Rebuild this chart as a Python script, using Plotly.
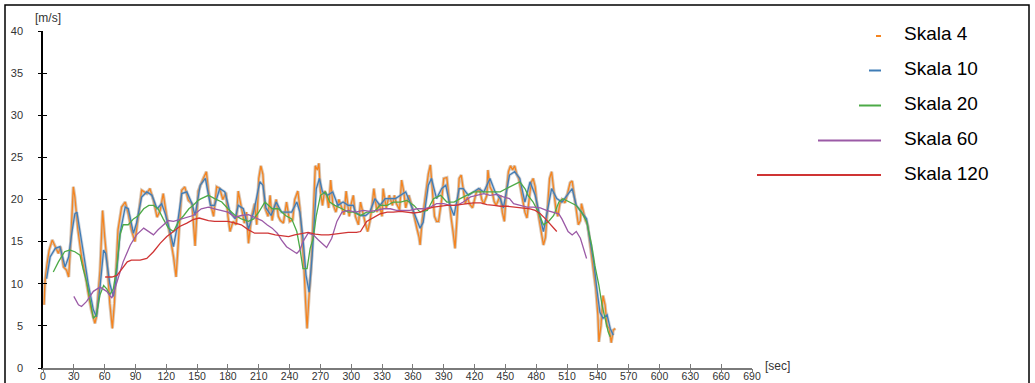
import plotly.graph_objects as go

# ---- wind speed time series [m/s] over time [sec], one per averaging scale ----
t4 = [1, 2, 4, 6, 9, 12, 15, 17, 20, 23,
      25, 27, 29.5, 31, 34, 37.5, 41, 44, 47, 50.5,
      52, 55.5, 58, 60, 62.5, 65, 67.5, 69.5, 71, 73,
      76.5, 80, 83, 86, 89.5, 93, 96, 101, 104, 107.5,
      111, 114, 117, 120, 124, 127, 129.5, 132, 135, 138,
      141.5, 145, 148, 151, 153, 156, 159, 161, 164, 166,
      169, 172, 175, 178, 180, 182, 185, 188, 190, 193,
      196, 198, 200, 203, 206, 208, 210, 212, 214, 216,
      219, 221, 223, 225, 227, 229, 231, 234, 237, 240,
      243, 245, 248, 250, 252, 254, 255.5, 257, 259, 261,
      263, 265, 267, 268.5, 270, 272, 274, 276, 278, 280,
      282, 285, 288, 290, 293, 295, 298, 300, 302, 304,
      307, 309, 312, 314, 316, 318, 320, 322, 325, 327,
      330, 331, 334, 337, 340, 342, 344, 347, 349, 351,
      353, 356, 359, 361, 364, 366, 367, 369, 372, 375,
      377, 379, 381, 383, 385, 388, 390, 393, 395, 397,
      399, 401, 403, 405, 407, 409, 411, 413, 415, 418,
      420, 422, 425, 427, 429, 432, 433, 435, 437, 439,
      441, 443, 445, 447, 449, 451, 453, 455, 457, 459,
      461, 463, 465, 467, 469, 471, 473, 475, 477, 479,
      481, 483, 485, 487, 489, 491, 493, 495, 497, 499,
      501, 503, 505, 508, 510, 513, 515, 517, 519, 521,
      523, 524, 526, 528, 530, 532, 534, 536, 538, 540,
      541, 543, 545, 547, 549, 551, 552, 553, 555, 557]
v4 = [7.5, 10.4, 12.4, 14.0, 15.2, 14.4, 13.6, 14.4, 12.0, 11.6,
      10.8, 15.0, 21.5, 20.3, 16.4, 13.2, 11.2, 8.9, 6.9, 5.3,
      6.1, 11.6, 18.7, 15.6, 12.4, 7.7, 4.7, 7.7, 11.6, 16.4,
      19.1, 19.7, 18.3, 16.4, 15.0, 18.7, 21.1, 20.7, 21.3, 19.9,
      17.9, 18.7, 20.7, 18.3, 15.6, 13.2, 10.8, 15.6, 21.1, 21.5,
      19.9, 19.5, 14.5, 21.0, 21.7, 22.5, 23.3, 21.0, 19.0, 18.0,
      21.5, 21.3, 20.0, 20.8, 18.0, 16.2, 17.4, 17.0, 21.0, 19.0,
      17.2, 18.5, 14.8, 18.0, 19.5, 17.0, 22.5, 24.0, 23.0, 19.0,
      18.0, 20.5, 17.5, 19.0, 20.0, 18.0, 17.5, 17.2, 19.7, 17.4,
      17.6, 20.0, 21.0, 19.0, 16.0, 12.0, 8.0, 4.7, 8.7, 12.0,
      18.0, 24.0, 23.5, 24.3, 21.0, 19.3, 21.0, 20.5, 19.0, 22.3,
      19.5, 18.5, 20.0, 19.3, 18.2, 21.0, 18.0, 19.5, 20.5, 18.0,
      17.0, 19.7, 18.0, 17.0, 16.2, 17.3, 19.0, 21.3, 18.5, 19.5,
      18.0, 21.3, 19.0, 20.5, 19.3, 20.5, 19.5, 18.8, 22.3, 21.0,
      19.0, 20.5, 19.2, 18.0, 16.5, 15.5, 14.6, 17.5, 20.5, 23.0,
      24.1, 21.0, 18.0, 17.4, 17.4, 20.0, 22.5, 22.6, 20.0, 18.0,
      16.2, 14.2, 18.0, 22.5, 22.9, 21.0, 19.5, 20.3, 19.5, 19.0,
      20.0, 21.0, 21.2, 20.0, 19.5, 20.5, 23.5, 21.5, 21.0, 19.8,
      19.3, 20.0, 20.5, 18.5, 17.4, 21.0, 23.3, 24.0, 23.5, 24.0,
      23.0, 22.5, 21.0, 20.0, 18.5, 17.8, 20.0, 22.0, 22.5, 21.5,
      19.0, 17.5, 16.0, 14.6, 15.5, 19.0, 22.5, 23.3, 21.0, 19.0,
      18.0, 19.5, 20.0, 19.6, 20.5, 22.0, 22.2, 20.5, 19.0, 17.0,
      17.5, 19.5, 18.5, 17.5, 17.0, 15.0, 13.0, 11.4, 9.4, 6.3,
      3.1, 5.0, 8.6, 7.5, 5.0, 4.7, 4.0, 3.0, 4.5, 4.7]

t10 = [3.5, 7, 12, 16.5, 21.5, 25, 28, 31, 33, 36,
       41, 44, 49, 52, 55.5, 59, 61, 65, 68.5, 71,
       75, 80, 83, 88, 91, 96, 101, 106, 111, 115.5,
       119, 124, 127, 130, 135, 140, 145, 148, 153, 158,
       163, 167, 172, 177, 182, 187, 190, 195, 200, 205,
       211, 214, 217, 222, 227, 232, 237, 242, 247, 250,
       253, 256, 259, 262, 266, 269, 272, 277, 282, 287,
       292, 297, 302, 304, 309, 314, 318, 323, 328, 333,
       338, 343, 348, 353, 357, 362, 367, 370, 375, 378,
       383, 388, 392, 396, 400, 405, 409, 414, 419, 424,
       429, 435, 440, 445, 448, 454, 459, 464, 469, 474,
       479, 484, 487, 490, 495, 500, 505, 510, 515, 519,
       524, 529, 532, 536, 539, 542, 545, 549, 552, 555]
v10 = [10.6, 13.2, 14.2, 14.4, 12.0, 13.2, 16.0, 18.3, 18.5, 16.4,
       12.4, 10.0, 6.9, 6.1, 9.6, 14.0, 13.6, 10.0, 8.5, 10.4,
       16.0, 19.1, 18.9, 16.0, 17.2, 20.3, 20.9, 20.5, 18.9, 19.5,
       18.3, 16.0, 14.4, 16.4, 20.7, 20.9, 19.5, 18.1, 21.7, 22.5,
       19.3, 19.3, 21.3, 20.9, 18.5, 17.7, 19.3, 18.9, 16.5, 18.5,
       22.1, 21.7, 19.0, 18.1, 19.7, 18.5, 18.5, 18.5, 19.7, 18.5,
       15.4, 11.0, 9.0, 13.4, 21.3, 22.5, 20.9, 20.5, 20.9, 19.3,
       19.7, 19.3, 19.3, 18.5, 18.1, 18.1, 18.5, 20.1, 19.3, 20.1,
       20.1, 20.1, 20.5, 20.9, 19.7, 18.1, 16.6, 17.3, 21.7, 22.5,
       20.1, 21.3, 21.7, 19.3, 18.1, 21.3, 21.3, 20.5, 20.9, 21.3,
       20.9, 22.5, 20.9, 20.1, 19.0, 22.9, 23.3, 22.5, 19.7, 22.1,
       20.5, 17.7, 16.2, 18.1, 21.3, 20.1, 19.7, 20.5, 21.3, 19.3,
       18.5, 17.7, 15.4, 12.6, 9.4, 6.6, 5.9, 6.3, 4.7, 3.9]

t20 = [10, 15, 21, 26, 31, 36, 39, 42.5, 46, 49,
       52, 55.5, 59, 62, 65, 68.5, 72, 75, 78, 83,
       88, 93, 98, 103, 107.5, 112, 117, 122, 127, 132,
       137, 142, 146, 151, 154, 161, 167, 174, 180, 187,
       193, 200, 205, 210, 216, 223, 229, 236, 242, 247,
       250, 253, 257, 260, 263, 266, 270, 275, 279, 284,
       291, 297, 302, 309, 315, 322, 328, 335, 341, 348,
       354, 361, 367, 374, 380, 387, 393, 400, 406, 413,
       419, 426, 432, 439, 445, 451, 458, 464, 469, 472,
       477, 482, 487, 492, 497, 502, 506, 513, 519, 524,
       529, 534, 537, 541, 544, 547, 550, 552]
v20 = [11.4, 12.6, 13.8, 14.0, 13.8, 13.4, 11.8, 10.2, 7.9, 5.9,
       6.3, 8.7, 9.8, 9.4, 8.7, 9.4, 12.2, 15.8, 17.0, 17.0,
       17.7, 18.1, 18.9, 19.3, 19.3, 18.9, 17.7, 16.6, 16.2, 17.4,
       18.1, 18.9, 19.3, 19.9, 20.1, 20.5, 20.1, 19.7, 18.9, 18.1,
       17.7, 17.4, 17.7, 18.5, 19.7, 18.9, 18.9, 18.1, 17.7, 16.2,
       14.2, 11.8, 11.8, 14.2, 15.4, 18.1, 20.5, 20.9, 19.7, 19.3,
       18.9, 18.5, 18.5, 18.1, 18.5, 18.5, 19.3, 19.3, 19.7, 19.7,
       19.9, 19.3, 18.5, 18.7, 20.1, 20.5, 19.7, 19.7, 20.1, 20.5,
       20.9, 20.9, 20.9, 20.9, 20.9, 21.3, 21.7, 22.1, 21.3, 20.5,
       19.7, 18.5, 17.0, 17.4, 18.1, 19.7, 20.1, 19.7, 19.3, 18.5,
       17.4, 14.6, 12.2, 9.8, 7.5, 5.9, 4.3, 3.7]

t60 = [30, 34.5, 37.5, 42.5, 49, 55.5, 62, 67, 72, 78,
       85, 91, 98, 103, 107.5, 112, 117, 122, 127, 133,
       140, 146, 154, 161, 167, 174, 180, 187, 193, 200,
       206, 213, 218, 223, 228, 232, 237, 242, 247, 250,
       253, 258, 263, 268, 273, 276, 281, 286, 291, 297,
       304, 312, 318, 325, 331, 338, 344, 351, 357, 364,
       370, 377, 383, 390, 396, 403, 409, 416, 422, 429,
       435, 442, 448, 454, 458, 464, 471, 477, 484, 490,
       497, 502, 505, 508, 511, 515, 519, 523, 526, 529]
v60 = [8.5, 7.5, 7.3, 7.9, 9.1, 9.6, 9.1, 8.3, 10.2, 12.6,
       14.6, 15.8, 16.6, 16.2, 15.8, 16.4, 17.0, 17.5, 17.4, 17.6,
       17.9, 18.1, 18.9, 19.1, 18.9, 18.7, 18.5, 17.9, 18.1, 18.2,
       17.9, 17.5, 17.0, 16.6, 16.0, 15.2, 14.4, 14.0, 13.6, 14.0,
       15.0, 16.0, 15.8, 15.2, 14.6, 14.3, 15.4, 17.4, 18.5, 18.7,
       18.5, 18.7, 18.6, 18.7, 18.9, 18.9, 18.7, 18.7, 18.7, 18.9,
       18.9, 19.1, 19.5, 19.5, 19.3, 19.3, 19.7, 20.3, 20.5, 20.7,
       20.5, 20.6, 20.3, 20.1, 19.5, 19.3, 19.1, 19.1, 19.0, 18.7,
       18.5, 18.3, 17.7, 17.0, 16.2, 15.8, 16.2, 15.4, 14.2, 13.0]

t120 = [60.5, 67, 72, 77, 82, 86, 94.5, 101, 107.5, 114,
        120.5, 127, 133, 140, 146, 152, 161, 167, 174, 180,
        187, 193, 200, 206, 213, 219, 226, 232, 239, 245,
        252, 258, 265, 271, 278, 284, 291, 297, 305, 309,
        315, 322, 328, 335, 341, 348, 354, 361, 367, 374,
        380, 387, 393, 400, 406, 413, 419, 426, 432, 439,
        445, 452, 461, 467, 474, 479, 484, 489, 493, 497,
        500]
v120 = [10.8, 10.8, 11.0, 11.8, 12.6, 12.8, 12.8, 13.0, 13.8, 14.8,
        15.6, 16.2, 16.8, 17.2, 17.6, 17.8, 17.5, 17.4, 17.4, 17.4,
        17.2, 17.0, 16.4, 16.0, 16.0, 16.0, 15.8, 15.7, 15.6, 15.8,
        16.0, 16.1, 15.9, 15.8, 15.8, 15.9, 16.0, 16.1, 16.1, 16.2,
        17.4, 17.9, 18.3, 18.5, 18.5, 18.6, 18.5, 18.4, 18.5, 18.9,
        19.1, 19.2, 19.3, 19.3, 19.4, 19.5, 19.6, 19.6, 19.4, 19.3,
        19.2, 19.2, 19.1, 19.0, 18.9, 18.7, 18.3, 17.7, 17.2, 16.6,
        16.2]

series_names = ["Skala 4", "Skala 10", "Skala 20", "Skala 60", "Skala 120"]
series_colors = ["#f5841f", "#3f7cb6", "#4caa47", "#9b5aa6", "#cf3434"]
legend_swatch_px = [5, 12, 22, 63, 124]   # swatch length per scale

x_ticks = list(range(0, 691, 30))
y_ticks = list(range(0, 41, 5))

# ---- page geometry (pixels) ----
W, H = 1035, 383
L, R, T, B = 43, 283, 31, 15
PW, PH = W - L - R, H - T - B


def px(xp):
    return (xp - L) / PW


def py(yp):
    return (H - B - yp) / PH


fig = go.Figure()

# soft halo under the finest scale
fig.add_trace(go.Scatter(x=t4, y=v4, mode="lines", showlegend=False, hoverinfo="skip",
                         line=dict(color="rgba(180,150,120,0.55)", width=3.2)))
fig.add_trace(go.Scatter(x=t4, y=v4, mode="lines", name=series_names[0],
                         line=dict(color=series_colors[0], width=1.3)))
fig.add_trace(go.Scatter(x=t10, y=v10, mode="lines", showlegend=False, hoverinfo="skip",
                         line=dict(color="rgba(150,165,185,0.45)", width=3)))
fig.add_trace(go.Scatter(x=t10, y=v10, mode="lines", name=series_names[1],
                         line=dict(color=series_colors[1], width=1.3)))
fig.add_trace(go.Scatter(x=t20, y=v20, mode="lines", name=series_names[2],
                         line=dict(color=series_colors[2], width=1.3)))
fig.add_trace(go.Scatter(x=t60, y=v60, mode="lines", name=series_names[3],
                         line=dict(color=series_colors[3], width=1.3)))
fig.add_trace(go.Scatter(x=t120, y=v120, mode="lines", name=series_names[4],
                         line=dict(color=series_colors[4], width=1.3)))

# overlay axes carry the outer half of the crossing tick marks
fig.add_trace(go.Scatter(x=[], y=[], xaxis="x2", yaxis="y2", showlegend=False,
                         hoverinfo="skip"))

x_font = dict(family="Liberation Sans, Arial, sans-serif", size=10.5, color="#333333")
y_font = dict(family="Liberation Sans, Arial, sans-serif", size=11, color="#333333")

fig.update_layout(
    width=W, height=H,
    margin=dict(l=L, r=R, t=T, b=B, autoexpand=False),
    paper_bgcolor="white", plot_bgcolor="white",
    showlegend=False,
    xaxis=dict(range=[0, 690], tickvals=x_ticks, ticks="inside", ticklen=4,
               tickcolor="#7a7a7a", tickwidth=1, showline=True, linecolor="#7a7a7a",
               linewidth=1.5, showgrid=False, zeroline=False, tickfont=x_font,
               ticklabelstandoff=-2, automargin=False),
    yaxis=dict(range=[0, 40], tickvals=y_ticks, ticks="inside", ticklen=4,
               tickcolor="black", tickwidth=1, showline=True, linecolor="black",
               linewidth=1.5, showgrid=False, zeroline=False, tickfont=y_font,
               ticklabelstandoff=16, automargin=False),
    xaxis2=dict(overlaying="x", matches="x", range=[0, 690], tickvals=x_ticks,
                ticks="outside", ticklen=4, tickcolor="#7a7a7a", showticklabels=False,
                showline=False, showgrid=False, zeroline=False, anchor="y2",
                automargin=False),
    yaxis2=dict(overlaying="y", matches="y", range=[0, 40], tickvals=y_ticks,
                ticks="outside", ticklen=4, tickcolor="black", showticklabels=False,
                showline=False, showgrid=False, zeroline=False, anchor="x2",
                automargin=False),
)

shapes = [
    # outer frame
    dict(type="rect", xref="paper", yref="paper",
         x0=px(5), x1=px(1029), y0=py(395), y1=py(5),
         line=dict(color="black", width=1.5), fillcolor="rgba(0,0,0,0)", layer="below"),
]
unit_font = dict(family="Liberation Sans, Arial", size=12, color="#333")
annotations = [
    dict(text="[m/s]", xref="paper", yref="paper", x=px(48), y=py(18),
         xanchor="center", yanchor="middle", showarrow=False, font=unit_font),
    dict(text="[sec]", xref="paper", yref="paper", x=px(763), y=py(366),
         xanchor="left", yanchor="middle", showarrow=False, font=unit_font),
]

# legend: swatches of increasing length, right-aligned, with labels
row_y = [36, 70.5, 105.5, 140.5, 175]
for name, color, length, yy in zip(series_names, series_colors, legend_swatch_px, row_y):
    shapes.append(dict(type="line", xref="paper", yref="paper",
                       x0=px(881 - length), x1=px(881), y0=py(yy), y1=py(yy),
                       line=dict(color=color, width=2)))
    annotations.append(dict(text=name, xref="paper", yref="paper",
                            x=px(902), y=py(yy - 2), xanchor="left", yanchor="middle",
                            showarrow=False,
                            font=dict(family="Liberation Sans, Arial", size=19, color="black")))

fig.update_layout(shapes=shapes, annotations=annotations)

fig.write_html("out.html")
